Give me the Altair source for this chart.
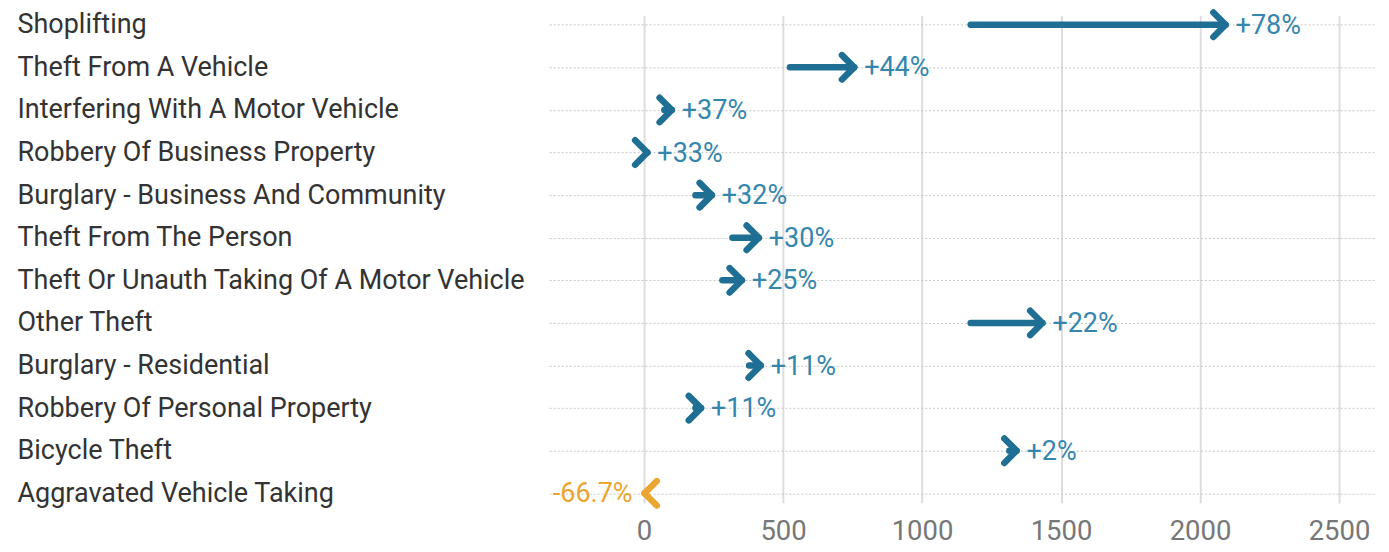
import altair as alt
import pandas as pd

categories = [
    "Shoplifting",
    "Theft From A Vehicle",
    "Interfering With A Motor Vehicle",
    "Robbery Of Business Property",
    "Burglary - Business And Community",
    "Theft From The Person",
    "Theft Or Unauth Taking Of A Motor Vehicle",
    "Other Theft",
    "Burglary - Residential",
    "Robbery Of Personal Property",
    "Bicycle Theft",
    "Aggravated Vehicle Taking",
]
start_values = [1175, 525, 73, 9, 185, 318, 282, 1175, 378, 185, 1314, 6]
end_values = [2092, 756, 100, 12, 244, 413, 352, 1433, 420, 205, 1340, 2]
pct_labels = ["+78%", "+44%", "+37%", "+33%", "+32%", "+30%", "+25%", "+22%",
              "+11%", "+11%", "+2%", "-66.7%"]
x_ticks = [0, 500, 1000, 1500, 2000, 2500]

df = pd.DataFrame({
    "category": categories,
    "start": start_values,
    "end": end_values,
    "label": pct_labels,
})
df["dir"] = ["up" if e >= s else "down" for s, e in zip(df["start"], df["end"])]

BLUE = "#1f6f94"
BLUE_TXT = "#3586ad"
ORANGE = "#eba531"
FONT = "Roboto"

y_enc = alt.Y(
    "category:N",
    sort=categories,
    scale=alt.Scale(type="point", padding=0.22),
    axis=alt.Axis(
        title=None,
        labelAlign="left",
        labelPadding=533,
        labelLimit=0,
        labelFontSize=27,
        labelColor="#333333",
        labelFont=FONT,
        ticks=False,
        domain=False,
        grid=True,
        gridDash=[2, 2],
        gridColor="#c8c8c8",
        gridWidth=1,
    ),
)
x_scale = alt.Scale(domain=[-341, 2633], nice=False, zero=False)
x_axis = alt.Axis(
    title=None,
    values=x_ticks,
    format="d",
    labelFontSize=27.5,
    labelColor="#777777",
    labelFont=FONT,
    labelPadding=15,
    ticks=False,
    domain=False,
    grid=True,
    gridColor="#dddddd",
    gridWidth=2,
)

color_scale = alt.Scale(domain=["up", "down"], range=[BLUE, ORANGE])

base = alt.Chart(df)

lines = base.mark_rule(strokeWidth=6.5, strokeCap="round").encode(
    y=y_enc,
    x=alt.X("start:Q", scale=x_scale, axis=x_axis),
    x2="end:Q",
    color=alt.Color("dir:N", scale=color_scale, legend=None),
)

heads_up = base.transform_filter(alt.datum.dir == "up").mark_point(
    shape="M-1,-1L0,0L-1,1", filled=False, strokeWidth=6.5,
    strokeCap="round", strokeJoin="round", size=600, opacity=1, color=BLUE,
).encode(y=y_enc, x=alt.X("end:Q", scale=x_scale))

heads_down = base.transform_filter(alt.datum.dir == "down").mark_point(
    shape="M1,-1L0,0L1,1", filled=False, strokeWidth=6.5,
    strokeCap="round", strokeJoin="round", size=600, opacity=1, color=ORANGE,
).encode(y=y_enc, x=alt.X("end:Q", scale=x_scale))

text_up = base.transform_filter(alt.datum.dir == "up").mark_text(
    align="left", baseline="middle", dx=10, dy=1, fontSize=27, font=FONT, color=BLUE_TXT,
).encode(y=y_enc, x=alt.X("end:Q", scale=x_scale), text="label:N")

text_down = base.transform_filter(alt.datum.dir == "down").mark_text(
    align="right", baseline="middle", dx=-12, dy=1, fontSize=27, font=FONT, color=ORANGE,
).encode(y=y_enc, x=alt.X("end:Q", scale=x_scale), text="label:N")

chart = alt.layer(lines, heads_up, heads_down, text_up, text_down).properties(
    width=828,
    height=488,
    padding={"left": 9, "top": 0, "right": 5, "bottom": 5},
    background="white",
).configure_view(stroke=None)

chart.save("out.html", embed_options={"renderer": "svg", "actions": False})
